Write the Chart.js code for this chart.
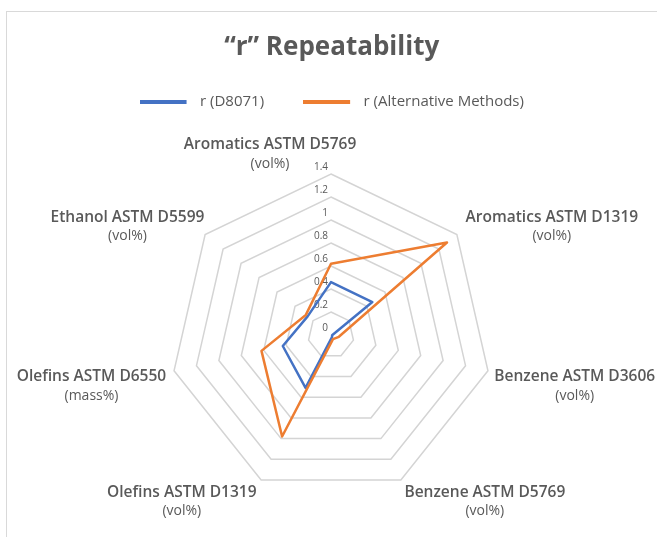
<!DOCTYPE html>
<html>
<head>
<meta charset="utf-8">
<title>“r” Repeatability</title>
<script src="https://cdn.jsdelivr.net/npm/chart.js@4/dist/chart.umd.min.js"></script>
<style>
  html, body { margin: 0; padding: 0; background: #ffffff; overflow: hidden; }
  #frame {
    position: absolute; left: 6px; top: 11px; width: 720px; height: 600px;
    border-left: 1px solid #d9d9d9; border-top: 1px solid #d9d9d9;
  }
  #chart { position: absolute; left: 0; top: 0; }
</style>
</head>
<body>
<div id="frame"></div>
<canvas id="chart" width="657" height="537"></canvas>
<script>
// Test methods on the radar spokes (clockwise from the top), two lines each
const categories = [
  ['Aromatics ASTM D5769', '(vol%)'],
  ['Aromatics ASTM D1319', '(vol%)'],
  ['Benzene ASTM D3606', '(vol%)'],
  ['Benzene ASTM D5769', '(vol%)'],
  ['Olefins ASTM D1319', '(vol%)'],
  ['Olefins ASTM D6550', '(mass%)'],
  ['Ethanol ASTM D5599', '(vol%)']
];

const seriesNames = ['r (D8071)', 'r (Alternative Methods)'];

// Repeatability values per method
const rD8071 = [0.46, 0.46, 0.01, 0.02, 0.51, 0.43, 0.26];
const rAlternative = [0.62, 1.29, 0.07, 0.04, 0.98, 0.62, 0.28];

// Radial axis ticks
const tickValues = [0, 0.2, 0.4, 0.6, 0.8, 1, 1.2, 1.4];
const tickLabels = ['0', '0.2', '0.4', '0.6', '0.8', '1', '1.2', '1.4'];

const seriesColors = ['#4472C4', '#ED7D31'];
const textColor = '#595959';
const fontFamily = '"Open Sans", "Noto Sans", sans-serif';

Chart.defaults.font.family = fontFamily;
Chart.defaults.color = textColor;

// Legend markers: a thick line followed by a small gap before the text
function makeMarker(color) {
  const c = document.createElement('canvas');
  c.width = 53; c.height = 4;
  const g = c.getContext('2d');
  g.fillStyle = color;
  g.fillRect(0, 0, 47, 4);
  return c;
}
const markers = seriesColors.map(makeMarker);

// Tick labels sit just left of the vertical spoke, slightly above each ring
const radialTicks = {
  id: 'radialTicks',
  beforeDatasetsDraw(chart) {
    const scale = chart.scales.r;
    const ctx = chart.ctx;
    ctx.save();
    ctx.font = '10px ' + fontFamily;
    ctx.fillStyle = textColor;
    ctx.textAlign = 'right';
    ctx.textBaseline = 'middle';
    tickValues.forEach((v, i) => {
      const d = scale.getDistanceFromCenterForValue(v);
      ctx.fillText(tickLabels[i], scale.xCenter - 3, scale.yCenter - d - 7);
    });
    ctx.restore();
  }
};

// Two-line category labels placed outside the outer ring
const labelShift = [[-61, -13.5], [4, -4], [0.5, 14], [1, 16.5], [-2, 16.5], [-2, 14], [4, -4]];
const categoryLabels = {
  id: 'categoryLabels',
  afterDraw(chart) {
    const scale = chart.scales.r;
    const ctx = chart.ctx;
    const fonts = ['600 15.5px ' + fontFamily, '400 14px ' + fontFamily];
    const lineGap = 19;
    ctx.save();
    ctx.fillStyle = textColor;
    ctx.textAlign = 'center';
    ctx.textBaseline = 'middle';
    chart.data.labels.forEach((lines, i) => {
      const p = scale.getPointPosition(i, scale.drawingArea + 6);
      const widths = lines.map((t, k) => { ctx.font = fonts[k]; return ctx.measureText(t).width; });
      const blockW = Math.max(...widths);
      const side = p.x - scale.xCenter;
      let left;
      if (side > 1) left = p.x + labelShift[i][0];
      else if (side < -1) left = p.x + labelShift[i][0] - blockW;
      else left = p.x + labelShift[i][0] - blockW / 2;
      const cx = left + blockW / 2;
      const cy = p.y + labelShift[i][1];
      lines.forEach((t, k) => {
        ctx.font = fonts[k];
        ctx.fillText(t, cx, cy + (k - (lines.length - 1) / 2) * lineGap);
      });
    });
    ctx.restore();
  }
};

new Chart(document.getElementById('chart'), {
  type: 'radar',
  data: {
    labels: categories,
    datasets: [
      {
        label: seriesNames[0],
        data: rD8071,
        borderColor: seriesColors[0],
        backgroundColor: seriesColors[0],
        order: 1
      },
      {
        label: seriesNames[1],
        data: rAlternative,
        borderColor: seriesColors[1],
        backgroundColor: seriesColors[1],
        order: 0
      }
    ]
  },
  options: {
    responsive: false,
    animation: false,
    devicePixelRatio: 1,
    events: [],
    layout: { padding: { top: 0, left: 6.4, right: 0, bottom: 40 } },
    elements: {
      line: { fill: false, borderWidth: 2.5, tension: 0, borderJoinStyle: 'round', borderCapStyle: 'round' },
      point: { radius: 0, hoverRadius: 0 }
    },
    scales: {
      r: {
        min: 0,
        max: 1.4,
        ticks: { stepSize: 0.2, display: false },
        grid: { circular: false, color: '#d4d4d4', lineWidth: 1.5 },
        angleLines: { display: false },
        pointLabels: { display: false }
      }
    },
    plugins: {
      title: {
        display: true,
        text: '“r” Repeatability',
        color: textColor,
        font: { size: 26, weight: 'bold', lineHeight: 0.6 },
        padding: { top: 39.5, bottom: 0 }
      },
      legend: {
        display: true,
        position: 'top',
        labels: {
          color: textColor,
          font: { size: 15 },
          usePointStyle: true,
          pointStyleWidth: 53,
          padding: 39,
          sort: (a, b) => a.datasetIndex - b.datasetIndex,
          generateLabels(chart) {
            const items = Chart.defaults.plugins.legend.labels.generateLabels(chart);
            items.forEach(it => { it.pointStyle = markers[it.datasetIndex]; });
            return items;
          }
        }
      },
      // spacer between the legend row and the plot
      subtitle: {
        display: true,
        text: '',
        weight: 500,
        font: { size: 10, lineHeight: 1 },
        padding: { top: 0, bottom: 45.5 }
      },
      tooltip: { enabled: false }
    }
  },
  plugins: [radialTicks, categoryLabels]
});
</script>
</body>
</html>
